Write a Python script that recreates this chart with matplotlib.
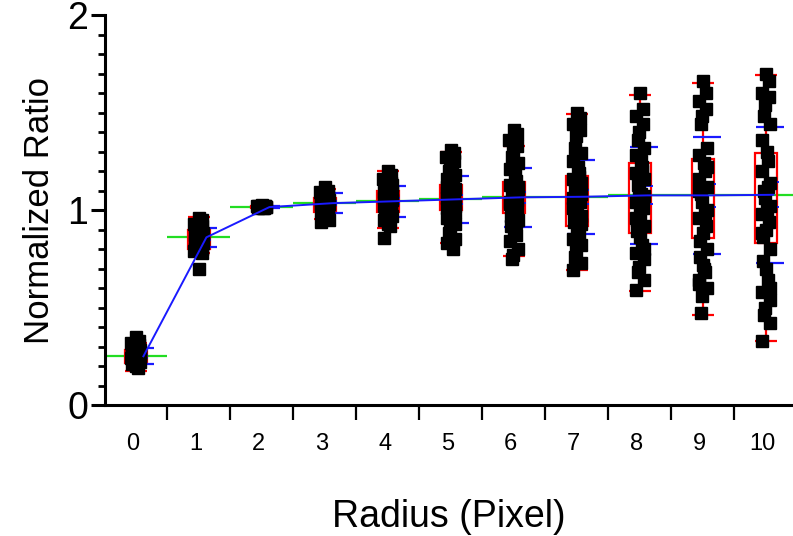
import numpy as np
import matplotlib.pyplot as plt
from matplotlib.ticker import MultipleLocator, FixedLocator

plt.rcParams['font.family'] = ['Liberation Sans', 'DejaVu Sans']

radius = list(range(11))
tick_labels = [str(r) for r in radius]

# individual normalized ratios per radius
r0 = [0.35, 0.33, 0.32, 0.31, 0.30, 0.29, 0.28, 0.28, 0.27, 0.27, 0.26, 0.26,
      0.25, 0.25, 0.24, 0.24, 0.23, 0.23, 0.22, 0.22, 0.21, 0.20, 0.19, 0.30,
      0.25, 0.21]
r1 = [0.96, 0.95, 0.93, 0.92, 0.90, 0.89, 0.88, 0.87, 0.86, 0.85, 0.84, 0.83,
      0.82, 0.81, 0.80, 0.79, 0.78, 0.70, 0.91, 0.85, 0.80]
r2 = [1.025, 1.02, 1.02, 1.02, 1.015, 1.015, 1.015, 1.01, 1.01, 1.01, 1.02, 1.015]
r3 = [1.12, 1.10, 1.09, 1.08, 1.07, 1.06, 1.05, 1.05, 1.04, 1.04, 1.03, 1.03,
      1.02, 1.02, 1.01, 1.00, 0.99, 0.98, 0.97, 0.95, 0.94, 1.06, 1.00]
r4 = [1.20, 1.18, 1.16, 1.14, 1.12, 1.11, 1.10, 1.09, 1.08, 1.07, 1.06, 1.05,
      1.05, 1.04, 1.03, 1.02, 1.01, 1.00, 0.99, 0.97, 0.95, 0.93, 0.92, 0.855,
      1.13, 1.07, 1.02]
r5 = [1.31, 1.29, 1.27, 1.25, 1.23, 1.20, 1.18, 1.16, 1.14, 1.13, 1.12, 1.11,
      1.10, 1.08, 1.07, 1.06, 1.05, 1.04, 1.03, 1.02, 1.01, 1.00, 0.98, 0.96,
      0.93, 0.91, 0.88, 0.85, 0.83, 0.80, 1.22, 1.09, 0.99]
r6 = [1.41, 1.39, 1.36, 1.33, 1.30, 1.27, 1.24, 1.21, 1.18, 1.15, 1.13, 1.11,
      1.09, 1.07, 1.05, 1.03, 1.01, 0.99, 0.97, 0.95, 0.92, 0.90, 0.87, 0.84,
      0.80, 0.77, 0.75, 1.12, 1.04, 0.94]
r7 = [1.50, 1.47, 1.44, 1.41, 1.38, 1.32, 1.29, 1.25, 1.22, 1.19, 1.16, 1.14,
      1.12, 1.10, 1.08, 1.06, 1.04, 1.02, 1.00, 0.97, 0.94, 0.91, 0.88, 0.85,
      0.82, 0.79, 0.76, 0.73, 0.69, 1.17, 1.09, 1.01, 0.93]
r8 = [1.60, 1.52, 1.48, 1.44, 1.40, 1.36, 1.32, 1.28, 1.25, 1.22, 1.19, 1.16,
      1.13, 1.10, 1.07, 1.04, 1.01, 0.98, 0.95, 0.92, 0.89, 0.86, 0.82, 0.78,
      0.75, 0.71, 0.68, 0.64, 0.59, 1.20, 1.08, 0.96, 0.80]
r9 = [1.66, 1.60, 1.56, 1.52, 1.48, 1.44, 1.32, 1.28, 1.24, 1.20, 1.16, 1.12,
      1.08, 1.04, 1.00, 0.96, 0.92, 0.88, 0.84, 0.80, 0.76, 0.72, 0.68, 0.64,
      0.60, 0.56, 0.47, 1.22, 1.10, 0.98, 0.70, 0.62]
r10 = [1.70, 1.66, 1.60, 1.58, 1.54, 1.48, 1.44, 1.36, 1.30, 1.25, 1.20, 1.14,
       1.10, 1.06, 1.02, 0.98, 0.94, 0.90, 0.86, 0.80, 0.74, 0.70, 0.64, 0.58,
       0.54, 0.50, 0.46, 0.42, 0.33, 1.12, 1.00, 0.88, 0.60]
ratios = [r0, r1, r2, r3, r4, r5, r6, r7, r8, r9, r10]

# summary statistics drawn on top
mean = [0.25, 0.86, 1.015, 1.035, 1.045, 1.055, 1.065, 1.068, 1.075, 1.075, 1.078]
sd = [0.04, 0.05, 0.005, 0.05, 0.08, 0.12, 0.15, 0.19, 0.25, 0.30, 0.35]
sem = [0.008, 0.012, 0.002, 0.011, 0.016, 0.022, 0.029, 0.035, 0.046, 0.058, 0.065]
box_lo = [0.215, 0.80, 1.01, 0.99, 0.99, 1.00, 0.985, 0.92, 0.88, 0.855, 0.83]
box_hi = [0.28, 0.90, 1.02, 1.06, 1.10, 1.13, 1.145, 1.175, 1.24, 1.26, 1.29]
whisk_lo = [0.175, 0.78, 1.005, 0.954, 0.91, 0.83, 0.765, 0.69, 0.585, 0.46, 0.33]
whisk_hi = [0.32, 0.965, 1.025, 1.108, 1.20, 1.30, 1.33, 1.49, 1.59, 1.65, 1.69]

fig = plt.figure(figsize=(7.93, 5.36), dpi=100)
ax = fig.add_axes([0.1324, 0.2444, 0.8676, 0.7276])

red = '#ff0000'
blue = '#1a1aff'
green = '#22dd22'

for k in radius:
    # group mean across the full bin
    ax.hlines(mean[k], k - 0.5, k + 0.5, color=green, lw=1.6, zorder=1)
    # box + whiskers
    ax.vlines(k, whisk_lo[k], whisk_hi[k], color=red, lw=1.6, zorder=2)
    ax.hlines([whisk_lo[k], whisk_hi[k]], k - 0.17, k + 0.17, color=red, lw=1.6, zorder=2)
    ax.add_patch(plt.Rectangle((k - 0.17, box_lo[k]), 0.34, box_hi[k] - box_lo[k],
                               fill=False, ec=red, lw=1.6, zorder=2))
    # mean +/- sd and sem
    ax.hlines([mean[k] - sd[k], mean[k] + sd[k]], k - 0.15, k + 0.28, color=blue, lw=1.6, zorder=2)
    ax.hlines([mean[k] - sem[k], mean[k] + sem[k]], k + 0.06, k + 0.2, color=blue, lw=1.4, zorder=2)
    # raw points, small sideways spread
    vals = np.array(ratios[k])
    jit = 0.07 * np.sin(np.arange(len(vals)) * 2.4)
    ax.plot(k + jit, vals, 's', color='black', ms=8.3, mec='black', zorder=3)

ax.plot(np.array(radius) + 0.12, mean, color=blue, lw=1.4, zorder=4)

ax.set_xlim(-0.49, 10.43)
ax.set_ylim(0, 2)

for s in ['top', 'right']:
    ax.spines[s].set_visible(False)
for s in ['left', 'bottom']:
    ax.spines[s].set_linewidth(2.2)

ax.xaxis.set_major_locator(FixedLocator(np.array(radius) - 0.05))
ax.set_xticklabels(tick_labels, fontsize=17)
ax.xaxis.set_minor_locator(FixedLocator(np.array(radius[:-1]) + 0.5))
ax.tick_params(axis='x', which='major', length=0, pad=20)
ax.tick_params(axis='x', which='minor', length=11, width=1.6, direction='out')

ax.yaxis.set_major_locator(MultipleLocator(1))
ax.yaxis.set_minor_locator(MultipleLocator(0.1))
ax.tick_params(axis='y', which='major', length=10, width=2.2, labelsize=27, pad=2)
ax.tick_params(axis='y', which='minor', length=5, width=2.0)
ax.set_yticks([0, 1, 2])
ax.set_yticklabels(['0', '1', '2'])

ax.set_xlabel('Radius (Pixel)', fontsize=27, labelpad=32)
ax.set_ylabel('Normalized Ratio', fontsize=25, labelpad=8)

fig.savefig('out.png', dpi=100)
